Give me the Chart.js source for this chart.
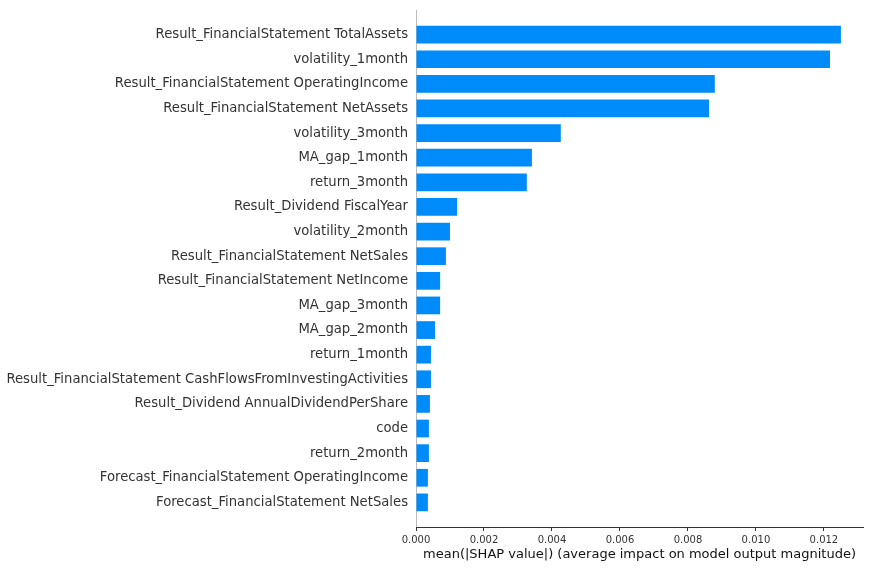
<!DOCTYPE html>
<html>
<head>
<meta charset="utf-8">
<script src="https://cdn.jsdelivr.net/npm/chart.js@4/dist/chart.umd.min.js"></script>
<style>
  html, body { margin: 0; padding: 0; background: #fff; }
  #chart { display: block; }
</style>
</head>
<body>
<canvas id="chart" width="872" height="568"></canvas>
<script>
const features = [
  'Result_FinancialStatement TotalAssets',
  'volatility_1month',
  'Result_FinancialStatement OperatingIncome',
  'Result_FinancialStatement NetAssets',
  'volatility_3month',
  'MA_gap_1month',
  'return_3month',
  'Result_Dividend FiscalYear',
  'volatility_2month',
  'Result_FinancialStatement NetSales',
  'Result_FinancialStatement NetIncome',
  'MA_gap_3month',
  'MA_gap_2month',
  'return_1month',
  'Result_FinancialStatement CashFlowsFromInvestingActivities',
  'Result_Dividend AnnualDividendPerShare',
  'code',
  'return_2month',
  'Forecast_FinancialStatement OperatingIncome',
  'Forecast_FinancialStatement NetSales',
];
const meanShap = [
  0.01250, 0.01218, 0.00879, 0.00862, 0.00426,
  0.00341, 0.00326, 0.00121, 0.00100, 0.00088,
  0.00071, 0.00071, 0.00056, 0.00044, 0.00044,
  0.00041, 0.00038, 0.00038, 0.00035, 0.00035,
];
const xTicks = [0, 0.002, 0.004, 0.006, 0.008, 0.010, 0.012];
const xMax = 0.01315;
const xTitle = 'mean(|SHAP value|) (average impact on model output magnitude)';

const FONT = 'DejaVu Sans';

new Chart(document.getElementById('chart'), {
  type: 'bar',
  data: {
    datasets: [{
      data: meanShap.map((v, i) => ({ x: v, y: i })),
      backgroundColor: '#008bfb',
      borderWidth: 0,
      categoryPercentage: 1,
      barPercentage: 0.72,
    }],
  },
  options: {
    responsive: false,
    devicePixelRatio: 1,
    animation: false,
    indexAxis: 'y',
    layout: {
      padding: { left: 0, right: 9, top: 10, bottom: 0 },
    },
    plugins: {
      legend: { display: false },
      tooltip: { enabled: false },
    },
    scales: {
      y: {
        type: 'linear',
        reverse: true,
        offset: false,
        min: -1,
        max: features.length,
        afterFit: (scale) => {
          scale.width = 416;
          scale.paddingTop = 0;
          scale.paddingBottom = 0;
        },
        afterBuildTicks: (scale) => {
          scale.ticks = features.map((_, i) => ({ value: i }));
        },
        ticks: {
          autoSkip: false,
          padding: 8,
          color: '#333333',
          font: { family: FONT, size: 13.2 },
          callback: (v) => features[v] ?? '',
        },
        grid: { drawOnChartArea: false, drawTicks: false },
        border: { color: '#bbbbbb', width: 1 },
      },
      x: {
        type: 'linear',
        min: 0,
        max: xMax,
        afterFit: (scale) => { scale.height = 41; },
        afterBuildTicks: (scale) => {
          scale.ticks = xTicks.map((v) => ({ value: v }));
        },
        ticks: {
          padding: 3,
          color: '#333333',
          font: { family: FONT, size: 10 },
          callback: (v) => Number(v).toFixed(3),
        },
        grid: { drawOnChartArea: false, tickLength: 4, color: '#333333' },
        border: { color: '#333333', width: 1 },
        title: {
          display: true,
          text: xTitle,
          color: '#111111',
          font: { family: FONT, size: 13 },
          padding: { top: 0, bottom: 6 },
        },
      },
    },
  },
});
</script>
</body>
</html>
